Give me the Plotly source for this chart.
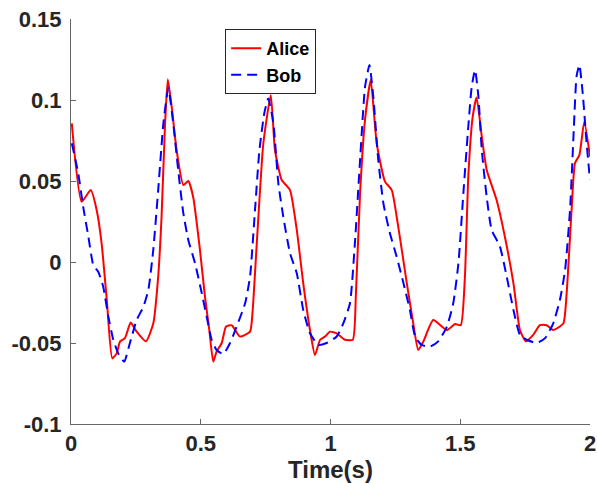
import plotly.graph_objects as go

alice_t = [0.003, 0.041, 0.076, 0.099, 0.118, 0.138, 0.159, 0.176, 0.189, 0.208, 0.230, 0.253, 0.289, 0.317,
           0.336, 0.349, 0.362, 0.373, 0.388, 0.407, 0.433, 0.452, 0.471, 0.497, 0.516, 0.533, 0.548, 0.561,
           0.581, 0.597, 0.619, 0.651, 0.690, 0.700, 0.716, 0.741, 0.770, 0.786, 0.812, 0.844, 0.870, 0.895,
           0.921, 0.940, 0.960, 0.979, 0.998, 1.024, 1.056, 1.086, 1.098, 1.114, 1.133, 1.155, 1.178, 1.210,
           1.236, 1.261, 1.294, 1.319, 1.338, 1.358, 1.396, 1.448, 1.480, 1.502, 1.518, 1.531, 1.548, 1.563,
           1.583, 1.602, 1.640, 1.672, 1.705, 1.730, 1.753, 1.781, 1.807, 1.833, 1.858, 1.897, 1.910, 1.929,
           1.942, 1.959, 1.978, 2.0]
alice_v = [0.0856, 0.0372, 0.0444, 0.032, 0.0115, -0.0235, -0.0595, -0.0564, -0.049, -0.047, -0.0374, -0.043,
           -0.049, -0.038, -0.009, 0.028, 0.0835, 0.1128, 0.0959, 0.069, 0.0475, 0.050, 0.040, 0.0074, -0.021,
           -0.042, -0.0615, -0.0553, -0.050, -0.040, -0.039, -0.046, -0.043, -0.030, 0.0117, 0.073, 0.103,
           0.069, 0.0506, 0.0444, 0.0198, -0.0132, -0.042, -0.0574, -0.048, -0.046, -0.043, -0.044, -0.048,
           -0.048, -0.0193, 0.0424, 0.0877, 0.1123, 0.0733, 0.0496, 0.0444, 0.0218, -0.013, -0.038, -0.0543,
           -0.049, -0.0358, -0.042, -0.0383, -0.039, -0.009, 0.0527, 0.0897, 0.1016, 0.0774, 0.0568, 0.0383,
           0.0156, -0.0132, -0.042, -0.049, -0.045, -0.039, -0.039, -0.042, -0.038, -0.0193, 0.032, 0.061,
           0.066, 0.0866, 0.065]

bob_t = [0.003, 0.028, 0.047, 0.067, 0.086, 0.105, 0.124, 0.144, 0.163, 0.182, 0.205, 0.227, 0.253, 0.279,
         0.298, 0.317, 0.336, 0.356, 0.375, 0.394, 0.413, 0.433, 0.452, 0.478, 0.504, 0.523, 0.542, 0.561,
         0.587, 0.613, 0.638, 0.671, 0.690, 0.709, 0.726, 0.745, 0.760, 0.780, 0.799, 0.818, 0.844, 0.870,
         0.895, 0.921, 0.953, 0.985, 1.024, 1.049, 1.075, 1.094, 1.114, 1.133, 1.150, 1.165, 1.184, 1.204,
         1.229, 1.255, 1.281, 1.306, 1.326, 1.351, 1.383, 1.415, 1.448, 1.473, 1.493, 1.512, 1.531, 1.544,
         1.557, 1.570, 1.583, 1.602, 1.621, 1.653, 1.679, 1.705, 1.730, 1.756, 1.795, 1.827, 1.858, 1.884,
         1.904, 1.923, 1.938, 1.948, 1.959, 1.972, 1.987, 2.0]
bob_v = [0.0733, 0.0547, 0.034, 0.0156, -0.0019, -0.006, -0.0152, -0.0338, -0.048, -0.0564, -0.0615, -0.050,
         -0.0358, -0.0276, -0.0173, 0.0074, 0.0444, 0.0856, 0.1072, 0.0856, 0.0568, 0.030, 0.0136, -0.0008,
         -0.0193, -0.0338, -0.048, -0.0543, -0.0568, -0.050, -0.040, -0.0255, -0.009, 0.032, 0.069, 0.092,
         0.101, 0.0856, 0.0486, 0.028, 0.0054, -0.007, -0.0296, -0.044, -0.0512, -0.050, -0.046, -0.038,
         -0.0255, 0.0115, 0.063, 0.108, 0.1216, 0.102, 0.063, 0.036, 0.0177, 0.0033, -0.013, -0.0296, -0.046,
         -0.0512, -0.0523, -0.049, -0.040, -0.0255, -0.0008, 0.0424, 0.0835, 0.108, 0.1185, 0.102, 0.069,
         0.040, 0.0198, 0.0095, -0.009, -0.0296, -0.045, -0.048, -0.050, -0.047, -0.038, -0.0235, -0.005,
         0.032, 0.0835, 0.1144, 0.1216, 0.104, 0.0733, 0.0506]

x_ticks = [0, 0.5, 1, 1.5, 2]
x_labels = ["0", "0.5", "1", "1.5", "2"]
y_ticks = [-0.1, -0.05, 0, 0.05, 0.1, 0.15]
y_labels = ["-0.1", "-0.05", "0", "0.05", "0.1", "0.15"]

fig = go.Figure()
fig.add_trace(go.Scatter(x=alice_t, y=alice_v, name="Alice", mode="lines",
                         line=dict(color="#ff0000", width=2, shape="spline", smoothing=0.5)))
fig.add_trace(go.Scatter(x=bob_t, y=bob_v, name="Bob", mode="lines",
                         line=dict(color="#0000ff", width=2, dash="10px,6px", shape="spline", smoothing=0.5)))

font_fam = "Liberation Sans, Arial, sans-serif"
fig.update_layout(
    width=597, height=483,
    margin=dict(l=71, r=7, t=19, b=59),
    plot_bgcolor="white", paper_bgcolor="white",
    font=dict(family=font_fam, color="#000000"),
    legend=dict(x=0.297, y=0.975, xanchor="left", yanchor="top",
                bordercolor="#262626", borderwidth=1, bgcolor="white",
                font=dict(size=18, weight="bold", family=font_fam, color="#000000"),
                tracegroupgap=0),
    xaxis=dict(range=[0, 2], tickvals=x_ticks, ticktext=x_labels, automargin=False,
               showgrid=False, zeroline=False, showline=True, linecolor="#666666", linewidth=1,
               ticks="inside", ticklen=5, tickcolor="#666666", ticklabeloverflow="allow",
               tickfont=dict(size=22, weight="bold", family=font_fam, color="#262626"),
               title=dict(text="Time(s)", font=dict(size=24, weight="bold", family=font_fam, color="#262626"),
                          standoff=4)),
    yaxis=dict(range=[-0.1, 0.15], tickvals=y_ticks, ticktext=y_labels, automargin=False,
               showgrid=False, zeroline=False, showline=True, linecolor="#666666", linewidth=1,
               ticks="inside", ticklen=5, tickcolor="#666666", ticklabelstandoff=4,
               ticklabeloverflow="allow",
               tickfont=dict(size=22, weight="bold", family=font_fam, color="#262626")),
)
# remove the default 8px page margin so the figure fills the 597x483 window exactly
fig.write_html("out.html", config={"displayModeBar": False},
               post_script="document.body.style.margin='0';")
